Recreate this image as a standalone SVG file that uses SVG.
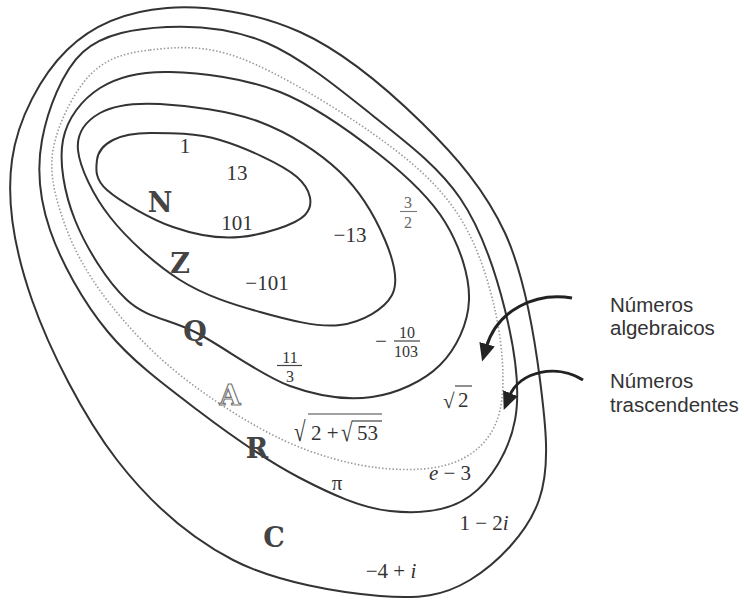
<svg xmlns="http://www.w3.org/2000/svg" width="744" height="601" viewBox="0 0 744 601">
<style>
.ln{fill:none;stroke:#333;stroke-width:2}
.dot{fill:none;stroke:#9a9a9a;stroke-width:1.6;stroke-dasharray:1.5 2}
.num{font-family:"Liberation Serif",serif;font-size:21px;fill:#333;text-anchor:middle}
.fr{font-size:16px}
.st{text-anchor:start}
.set{font-family:"DejaVu Serif",serif;font-weight:bold;font-size:27px;fill:#444;text-anchor:middle}
.alg{fill:#fff;stroke:#777;stroke-width:1.2}
.side{font-family:"Liberation Sans",sans-serif;font-size:20.5px;fill:#333}
.arr{fill:none;stroke:#222;stroke-width:3}
.bar{stroke:#444;stroke-width:1.2}
</style>
<defs>
<marker id="ah" markerUnits="userSpaceOnUse" markerWidth="22" markerHeight="18" refX="4" refY="8" orient="auto">
<path d="M0,0 L18,8 L0,16 Z" fill="#222"/>
</marker>
</defs>
<rect width="744" height="601" fill="#fff"/>

<g id="set-C">
<path class="ln" d="M167,8 C205.8,5 257.5,12.8 300,32 C342.5,51.2 387.8,89.5 422,123 C456.2,156.5 485.3,190.2 505,233 C524.7,275.8 534.3,335.5 540,380 C545.7,424.5 550.7,466.7 539,500 C527.3,533.3 496.5,564 470,580 C443.5,596 419.5,599.3 380,596 C340.5,592.7 276.8,582.7 233,560 C189.2,537.3 150.5,503.3 117,460 C83.5,416.7 49.5,350 32,300 C14.5,250 6.2,201.7 12,160 C17.8,118.3 41.2,75.3 67,50 C92.8,24.7 128.2,11 167,8 Z"/>
<text class="set" x="274" y="547">C</text>
<text class="num" x="484" y="530">1 − 2<tspan font-style="italic">i</tspan></text>
<text class="num" x="391" y="578">−4 + <tspan font-style="italic">i</tspan></text>
</g>

<g id="set-R">
<path class="ln" d="M167,27 C197.7,25.5 232.8,28.3 267,43 C301.2,57.7 339.8,89.2 372,115 C404.2,140.8 437.8,165.5 460,198 C482.2,230.5 495.8,273 505,310 C514.2,347 520.8,389 515,420 C509.2,451 490.8,480.8 470,496 C449.2,511.2 418.3,514 390,511 C361.7,508 331.7,494.5 300,478 C268.3,461.5 232,436.3 200,412 C168,387.7 133,362.3 108,332 C83,301.7 61,262 50,230 C39,198 36.5,169.7 42,140 C47.5,110.3 62.2,70.8 83,52 C103.8,33.2 136.3,28.5 167,27 Z"/>
<text class="set" x="257" y="458">R</text>
<text class="num" x="337" y="490">π</text>
<text class="num" x="450" y="480"><tspan font-style="italic">e</tspan> − 3</text>
</g>

<g id="set-A">
<path class="dot" d="M150,50 C175,47.2 203,44.2 240,58 C277,71.8 336.2,107.7 372,133 C407.8,158.3 434.5,180.5 455,210 C475.5,239.5 487.5,276.7 495,310 C502.5,343.3 505.8,385 500,410 C494.2,435 480,450.3 460,460 C440,469.7 409.5,471.3 380,468 C350.5,464.7 316.3,455.5 283,440 C249.7,424.5 209.3,398.3 180,375 C150.7,351.7 126.2,325 107,300 C87.8,275 74,250 65,225 C56,200 48.8,175 53,150 C57.2,125 73.8,91.7 90,75 C106.2,58.3 125,52.8 150,50 Z"/>
<text class="set alg" x="230" y="405">A</text>
<text class="num st" x="443" y="408" font-size="24">√</text>
<line class="bar" x1="455" y1="386" x2="472" y2="386"/>
<text class="num st" x="458" y="407" font-size="18">2</text>
<g transform="translate(0,441) scale(1,1.32)"><text class="num st" x="294" y="0" font-size="28">√</text></g>
<line class="bar" x1="308" y1="414" x2="382" y2="414"/>
<text class="num st" x="311" y="440" font-size="18">2 +</text>
<g transform="translate(0,441) scale(1,1.25)"><text class="num st" x="341" y="0" font-size="21">√</text></g>
<line class="bar" x1="352" y1="421" x2="382" y2="421"/>
<text class="num st" x="357" y="440" font-size="18">53</text>
</g>

<g id="set-Q">
<path class="ln" d="M170,72 C200,72.7 245,78.2 280,92 C315,105.8 352.5,133.3 380,155 C407.5,176.7 430.2,197.8 445,222 C459.8,246.2 469.8,276.2 469,300 C468.2,323.8 456.2,348.8 440,365 C423.8,381.2 397,393.5 372,397 C347,400.5 319.2,396.7 290,386 C260.8,375.3 224.2,347.3 197,333 C169.8,318.7 147.3,318.8 127,300 C106.7,281.2 85.7,246.7 75,220 C64.3,193.3 58.8,162 63,140 C67.2,118 82.2,99.3 100,88 C117.8,76.7 140,71.3 170,72 Z"/>
<text class="set" x="195" y="341">Q</text>
<text class="num fr" x="408" y="208" style="fill:#666">3</text>
<line x1="400" y1="211.5" x2="417" y2="211.5" stroke="#777" stroke-width="1.1"/>
<text class="num fr" x="408" y="228" style="fill:#666">2</text>
<text class="num fr" x="290" y="363">11</text>
<line class="bar" x1="277" y1="365.5" x2="302" y2="365.5"/>
<text class="num fr" x="290" y="382">3</text>
<text class="num" x="381" y="348">−</text>
<text class="num fr" x="407" y="338">10</text>
<line class="bar" x1="394" y1="341" x2="420" y2="341"/>
<text class="num fr" x="406" y="357">103</text>
</g>

<g id="set-Z">
<path class="ln" d="M160,104 C186.7,105.5 230,110.7 260,122 C290,133.3 319.2,152.3 340,172 C360.8,191.7 376.3,219.5 385,240 C393.7,260.5 399.5,280.8 392,295 C384.5,309.2 362,322.2 340,325 C318,327.8 286.7,319.5 260,312 C233.3,304.5 205,295.8 180,280 C155,264.2 127,238.7 110,217 C93,195.3 79.7,167.3 78,150 C76.3,132.7 86.3,120.7 100,113 C113.7,105.3 133.3,102.5 160,104 Z"/>
<text class="set" x="180" y="273">Z</text>
<text class="num" x="350" y="242">−13</text>
<text class="num" x="267" y="290">−101</text>
</g>

<g id="set-N">
<path class="ln" d="M150,133 C167.8,133 195.5,132.7 220,140 C244.5,147.3 282.8,164.5 297,177 C311.2,189.5 314.5,205 305,215 C295.5,225 262,235 240,237 C218,239 195.2,234.8 173,227 C150.8,219.2 119.7,201.2 107,190 C94.3,178.8 96,168.3 97,160 C98,151.7 104.2,144.5 113,140 C121.8,135.5 132.2,133 150,133 Z"/>
<text class="set" x="160" y="212">N</text>
<text class="num" x="185" y="153">1</text>
<text class="num" x="237" y="180">13</text>
<text class="num" x="237" y="230">101</text>
</g>

<g id="connectors">
<path class="arr" d="M572,298 C535,292 497,310 486,348" marker-end="url(#ah)"/>
<path class="arr" d="M583,380 C558,364 520,370 509,397" marker-end="url(#ah)"/>
</g>

<g id="legend">
<text class="side" x="610" y="312">Números</text>
<text class="side" x="610" y="335">algebraicos</text>
<text class="side" x="610" y="388">Números</text>
<text class="side" x="610" y="412">trascendentes</text>
</g>
</svg>
